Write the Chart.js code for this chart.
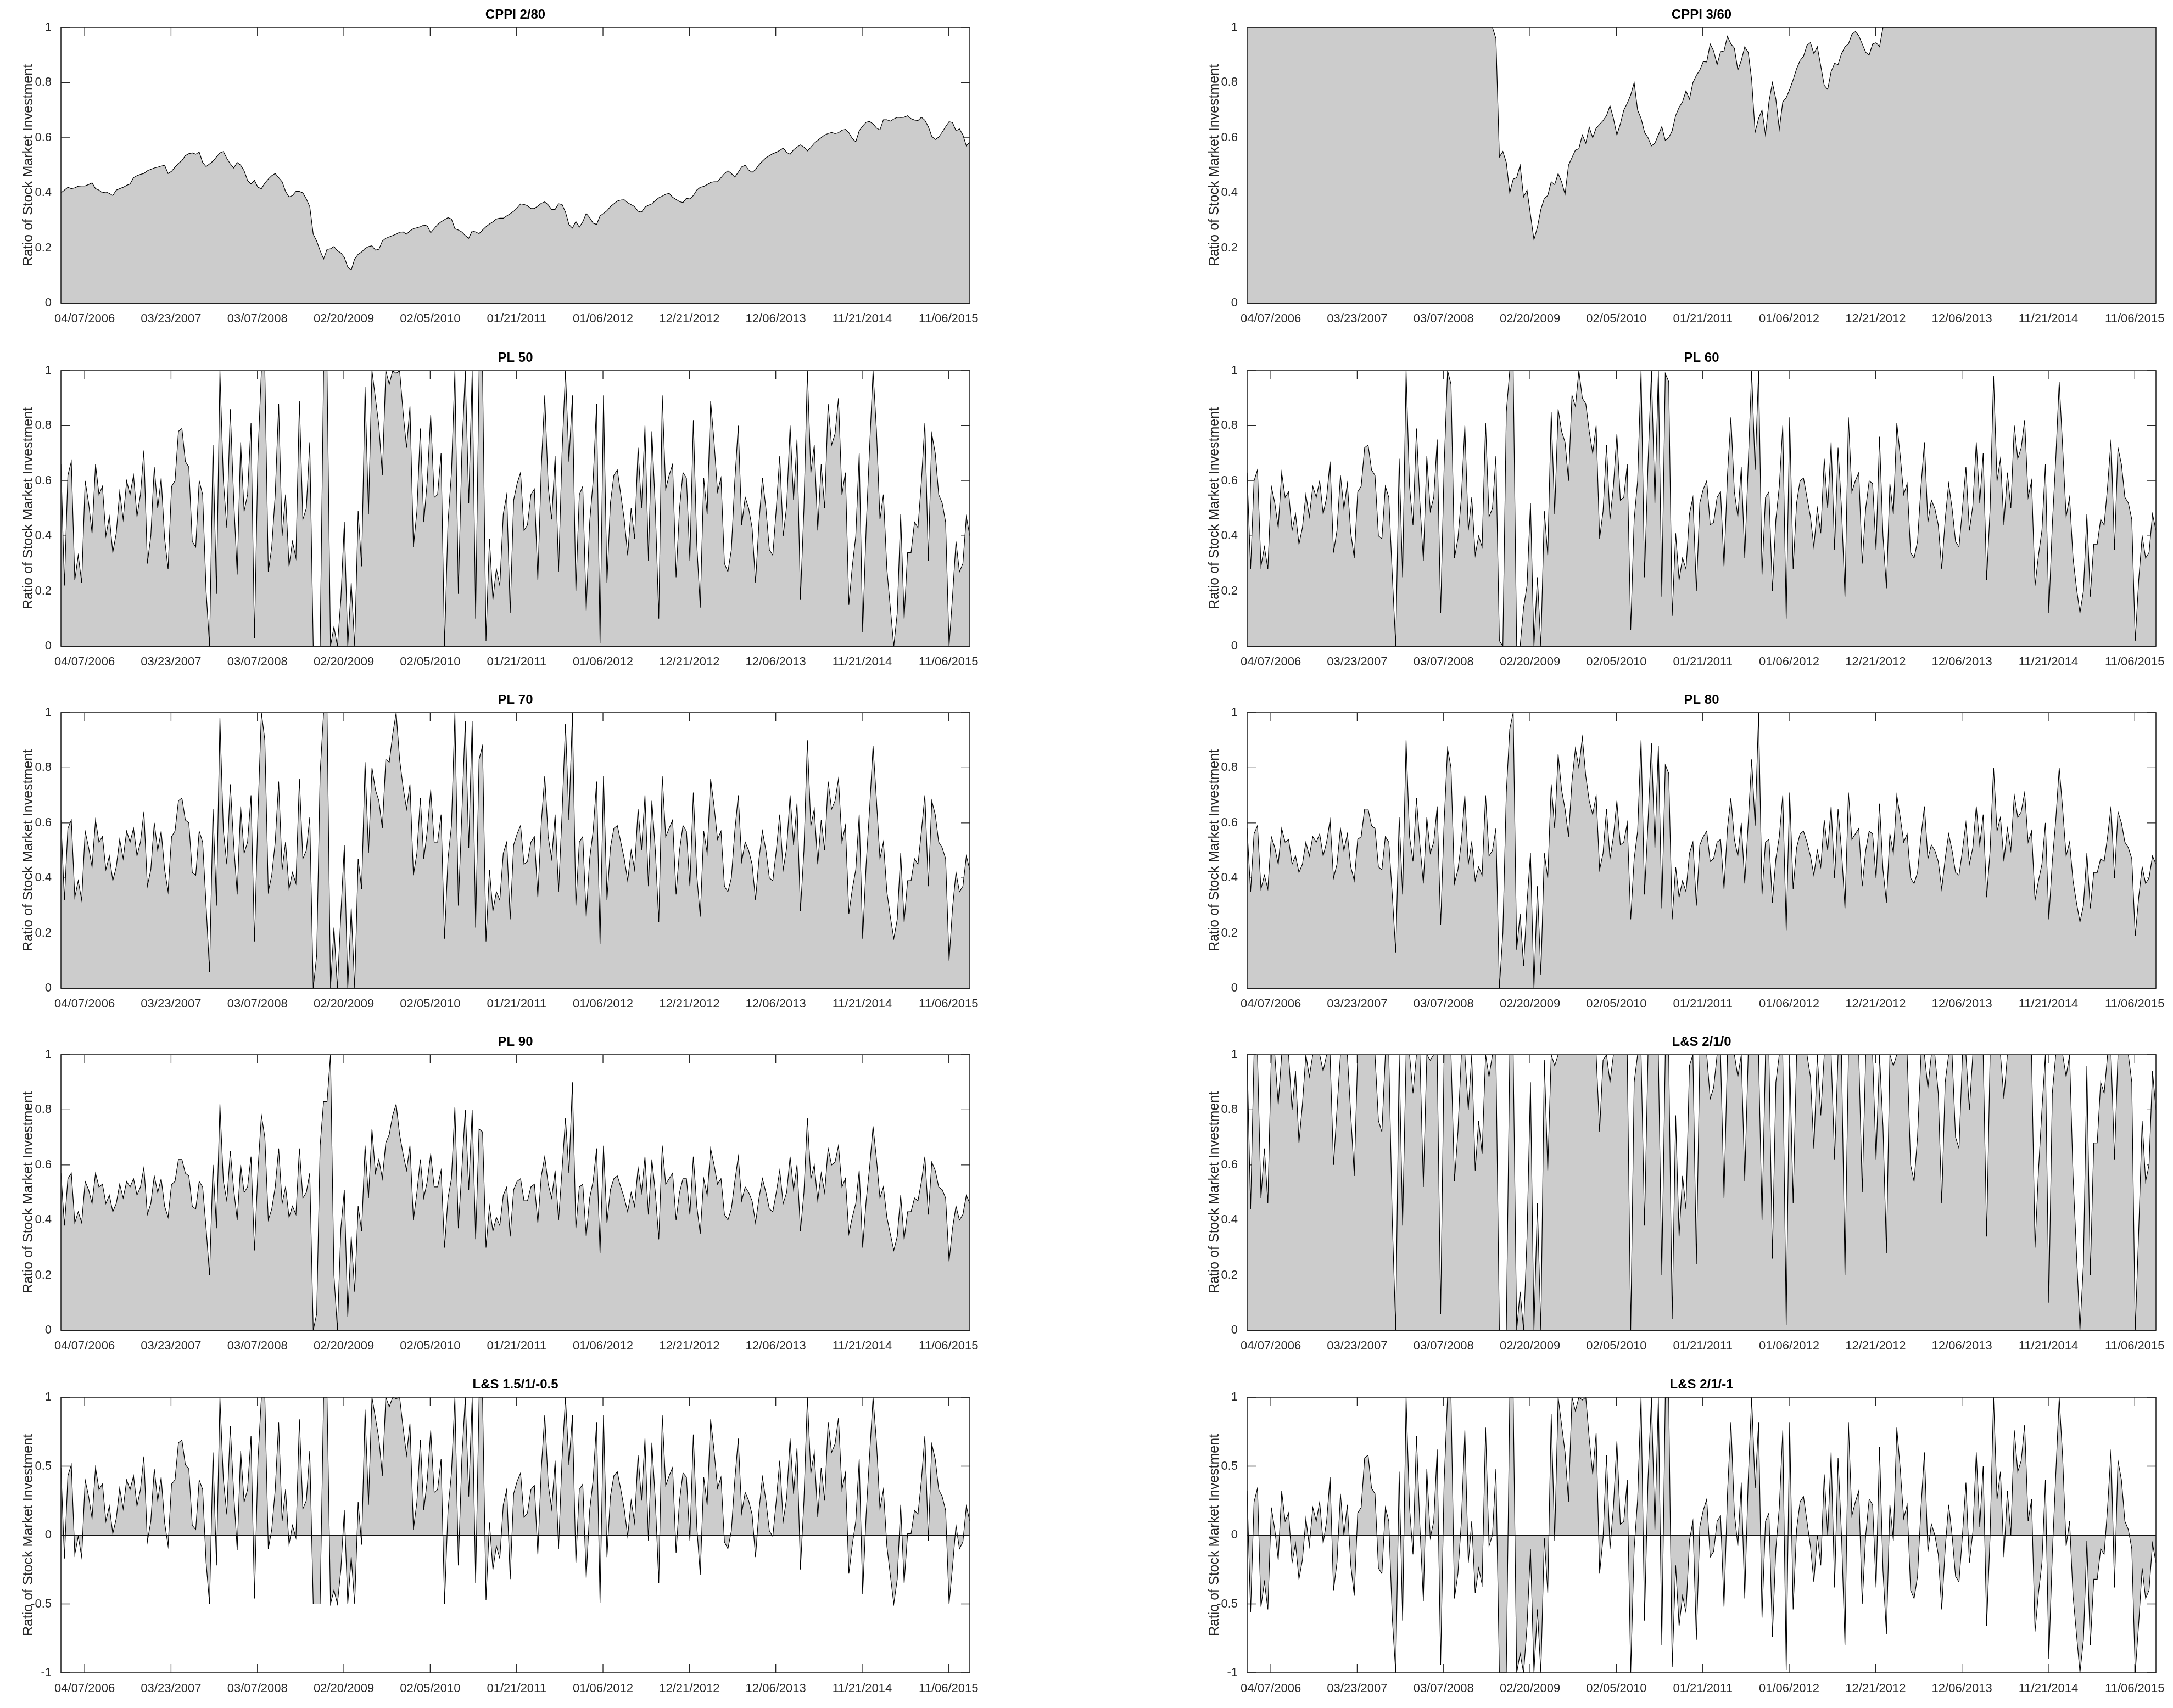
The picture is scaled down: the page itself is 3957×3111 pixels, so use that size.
<!DOCTYPE html>
<html>
<head>
<meta charset="utf-8">
<script src="https://cdn.jsdelivr.net/npm/chart.js@4.4.1/dist/chart.umd.min.js"></script>
<style>
html,body{margin:0;padding:0;background:#fff;}
#page{position:relative;width:3957px;height:3111px;background:#fff;overflow:hidden;}
canvas{position:absolute;}
</style>
</head>
<body>
<div id="page"></div>
<script>
// ---------- tick labels (weekly dates, one every 50 weeks) ----------
const tickLabels = ['04/07/2006','03/23/2007','03/07/2008','02/20/2009','02/05/2010','01/21/2011','01/06/2012','12/21/2012','12/06/2013','11/21/2014','11/06/2015'];
const tickWeeks = [13.7,63.7,113.7,163.7,213.7,263.7,313.7,363.7,413.7,463.7,513.7];
const yTicksUnit = [0,0.2,0.4,0.6,0.8,1];
const yTicksSigned = [-1,-0.5,0,0.5,1];
const WEEKS_PER_SAMPLE = 2;

// ---------- series (one value every two weeks) ----------
const cppi280 = [
0.40,0.41,0.42,0.415,0.418,0.424,0.425,0.425,0.43,0.436,
0.415,0.41,0.40,0.403,0.398,0.39,0.41,0.415,0.42,0.427,
0.432,0.455,0.462,0.467,0.47,0.48,0.485,0.49,0.493,0.497,
0.50,0.47,0.478,0.493,0.507,0.517,0.535,0.542,0.545,0.54,
0.548,0.51,0.495,0.505,0.515,0.53,0.545,0.55,0.525,0.505,
0.49,0.51,0.50,0.48,0.445,0.432,0.445,0.42,0.415,0.435,
0.45,0.462,0.47,0.455,0.44,0.405,0.385,0.39,0.405,0.405,
0.40,0.378,0.35,0.25,0.225,0.19,0.16,0.195,0.197,0.205,
0.19,0.182,0.166,0.13,0.12,0.16,0.177,0.185,0.198,0.205,
0.208,0.192,0.195,0.225,0.235,0.24,0.245,0.25,0.257,0.258,
0.25,0.262,0.27,0.273,0.277,0.283,0.28,0.255,0.27,0.285,
0.295,0.303,0.31,0.305,0.27,0.265,0.258,0.245,0.235,0.262,
0.258,0.252,0.265,0.277,0.287,0.295,0.305,0.308,0.308,0.316,
0.324,0.333,0.345,0.36,0.358,0.353,0.343,0.343,0.352,0.362,
0.367,0.356,0.34,0.34,0.36,0.358,0.33,0.285,0.272,0.296,
0.275,0.295,0.325,0.31,0.29,0.285,0.316,0.325,0.335,0.35,
0.36,0.37,0.374,0.375,0.364,0.357,0.35,0.333,0.33,0.348,
0.355,0.36,0.372,0.382,0.388,0.395,0.398,0.384,0.376,0.368,
0.365,0.38,0.378,0.39,0.41,0.42,0.423,0.43,0.438,0.44,
0.44,0.455,0.47,0.48,0.47,0.457,0.475,0.494,0.50,0.483,
0.474,0.484,0.502,0.515,0.527,0.535,0.542,0.547,0.554,0.562,
0.547,0.54,0.556,0.566,0.574,0.566,0.552,0.565,0.58,0.59,
0.60,0.61,0.615,0.619,0.615,0.618,0.627,0.63,0.618,0.597,
0.585,0.625,0.642,0.656,0.659,0.65,0.635,0.628,0.665,0.665,
0.66,0.668,0.674,0.673,0.674,0.68,0.669,0.664,0.662,0.674,
0.663,0.64,0.605,0.593,0.602,0.62,0.64,0.658,0.655,0.625,
0.632,0.61,0.57,0.585];

const cppi360 = [
1,1,1,1,1,1,1,1,1,1,
1,1,1,1,1,1,1,1,1,1,
1,1,1,1,1,1,1,1,1,1,
1,1,1,1,1,1,1,1,1,1,
1,1,1,1,1,1,1,1,1,1,
1,1,1,1,1,1,1,1,1,1,
1,1,1,1,1,1,1,1,1,1,
1,1,0.96,0.53,0.55,0.51,0.40,0.45,0.455,0.50,
0.385,0.41,0.32,0.23,0.275,0.34,0.38,0.39,0.44,0.43,
0.47,0.44,0.395,0.50,0.528,0.555,0.56,0.61,0.58,0.638,
0.60,0.635,0.648,0.662,0.68,0.716,0.67,0.61,0.65,0.70,
0.725,0.755,0.80,0.70,0.67,0.62,0.60,0.57,0.58,0.61,
0.64,0.59,0.60,0.625,0.68,0.71,0.73,0.77,0.74,0.80,
0.826,0.845,0.876,0.875,0.94,0.915,0.865,0.912,0.915,0.968,
0.94,0.925,0.845,0.88,0.93,0.91,0.81,0.62,0.67,0.70,
0.61,0.73,0.80,0.74,0.63,0.73,0.745,0.775,0.81,0.85,
0.88,0.895,0.935,0.945,0.905,0.93,0.86,0.79,0.775,0.84,
0.87,0.865,0.905,0.93,0.94,0.975,0.985,0.97,0.94,0.91,
0.90,0.94,0.945,0.93,1,1,1,1,1,1,
1,1,1,1,1,1,1,1,1,1,
1,1,1,1,1,1,1,1,1,1,
1,1,1,1,1,1,1,1,1,1,
1,1,1,1,1,1,1,1,1,1,
1,1,1,1,1,1,1,1,1,1,
1,1,1,1,1,1,1,1,1,1,
1,1,1,1,1,1,1,1,1,1,
1,1,1,1];

const pl50 = [
0.66,0.22,0.62,0.67,0.24,0.33,0.23,0.60,0.52,0.41,
0.66,0.55,0.58,0.40,0.47,0.34,0.41,0.56,0.46,0.60,
0.55,0.62,0.47,0.55,0.71,0.30,0.40,0.65,0.50,0.61,
0.39,0.28,0.58,0.60,0.78,0.79,0.67,0.65,0.38,0.36,
0.60,0.55,0.20,0,0.73,0.19,1,0.60,0.43,0.86,
0.53,0.26,0.74,0.49,0.55,0.81,0.03,0.69,1,1,
0.27,0.36,0.55,0.88,0.40,0.55,0.29,0.38,0.32,0.89,
0.46,0.50,0.74,0,0,0,1,1,0,0.07,
0,0.17,0.45,0,0.23,0,0.49,0.29,0.94,0.48,
1,0.90,0.80,0.62,1,0.95,1,0.99,1,0.85,
0.72,0.87,0.36,0.49,0.79,0.45,0.60,0.84,0.54,0.55,
0.70,0,0.45,0.63,1,0.19,0.70,1,0.52,1,
0.10,1,1,0.02,0.39,0.17,0.28,0.22,0.48,0.55,
0.12,0.53,0.59,0.63,0.42,0.44,0.55,0.57,0.24,0.65,
0.91,0.58,0.46,0.69,0.27,0.70,1,0.67,0.91,0.20,
0.55,0.58,0.13,0.45,0.60,0.88,0.01,0.91,0.23,0.52,
0.62,0.64,0.55,0.46,0.33,0.50,0.39,0.72,0.50,0.80,
0.31,0.78,0.50,0.10,0.91,0.57,0.62,0.66,0.25,0.50,
0.63,0.61,0.31,0.82,0.37,0.14,0.61,0.48,0.89,0.74,
0.56,0.61,0.30,0.27,0.35,0.60,0.80,0.44,0.54,0.50,
0.43,0.23,0.45,0.61,0.50,0.35,0.33,0.50,0.69,0.40,
0.51,0.80,0.53,0.75,0.17,0.50,1,0.63,0.73,0.42,
0.66,0.50,0.88,0.73,0.77,0.90,0.55,0.63,0.15,0.29,
0.40,0.70,0.05,0.43,0.72,1,0.78,0.46,0.55,0.28,
0.14,0,0.12,0.48,0.10,0.34,0.34,0.45,0.43,0.60,
0.81,0.31,0.77,0.70,0.55,0.52,0.45,0,0.18,0.38,
0.27,0.30,0.47,0.40];

const pl60 = [
0.63,0.28,0.60,0.64,0.29,0.36,0.28,0.58,0.52,0.43,
0.63,0.54,0.56,0.42,0.48,0.37,0.43,0.55,0.47,0.58,
0.54,0.60,0.48,0.54,0.67,0.34,0.42,0.62,0.50,0.59,
0.41,0.32,0.56,0.58,0.72,0.73,0.64,0.62,0.40,0.39,
0.58,0.54,0.26,0,0.68,0.25,1,0.58,0.44,0.79,
0.52,0.31,0.69,0.49,0.54,0.75,0.12,0.65,1,0.95,
0.32,0.39,0.54,0.80,0.42,0.54,0.33,0.40,0.36,0.81,
0.47,0.50,0.69,0.02,0,0.85,1,1,0,0,
0.14,0.22,0.52,0,0.25,0,0.49,0.33,0.85,0.48,
0.86,0.78,0.74,0.60,0.91,0.87,1,0.90,0.88,0.78,
0.70,0.80,0.39,0.49,0.73,0.46,0.58,0.77,0.53,0.54,
0.66,0.06,0.46,0.60,1,0.25,0.66,1,0.52,1,
0.18,0.99,0.96,0.11,0.41,0.24,0.32,0.28,0.48,0.54,
0.20,0.52,0.57,0.60,0.44,0.45,0.54,0.56,0.29,0.62,
0.83,0.56,0.47,0.65,0.32,0.66,1,0.64,1,0.26,
0.54,0.56,0.20,0.46,0.58,0.80,0.10,0.83,0.28,0.52,
0.60,0.61,0.54,0.47,0.36,0.50,0.41,0.68,0.50,0.74,
0.35,0.72,0.50,0.18,0.83,0.56,0.60,0.63,0.30,0.50,
0.60,0.59,0.35,0.76,0.40,0.21,0.59,0.48,0.81,0.69,
0.55,0.59,0.34,0.32,0.38,0.58,0.74,0.45,0.53,0.50,
0.44,0.28,0.46,0.59,0.50,0.38,0.36,0.50,0.65,0.42,
0.51,0.74,0.52,0.70,0.24,0.50,0.98,0.60,0.68,0.44,
0.63,0.50,0.80,0.68,0.72,0.82,0.54,0.60,0.22,0.33,
0.42,0.66,0.12,0.44,0.68,0.96,0.72,0.47,0.54,0.32,
0.21,0.12,0.20,0.48,0.18,0.37,0.37,0.46,0.44,0.58,
0.75,0.35,0.72,0.66,0.54,0.52,0.46,0.02,0.24,0.40,
0.32,0.34,0.48,0.42];

const pl70 = [
0.61,0.32,0.58,0.61,0.33,0.39,0.32,0.57,0.51,0.44,
0.61,0.53,0.55,0.43,0.48,0.39,0.44,0.54,0.47,0.57,
0.53,0.58,0.48,0.53,0.64,0.37,0.43,0.60,0.50,0.57,
0.43,0.35,0.55,0.57,0.68,0.69,0.61,0.60,0.42,0.41,
0.57,0.53,0.30,0.06,0.65,0.30,0.98,0.57,0.45,0.74,
0.52,0.34,0.66,0.49,0.53,0.70,0.17,0.63,1,0.90,
0.35,0.41,0.53,0.75,0.43,0.53,0.36,0.42,0.38,0.76,
0.47,0.50,0.62,0,0.12,0.78,1,1,0,0.22,
0,0.27,0.52,0,0.29,0,0.47,0.36,0.82,0.49,
0.80,0.72,0.68,0.58,0.83,0.82,0.92,1,0.83,0.73,
0.65,0.74,0.41,0.49,0.69,0.47,0.57,0.72,0.53,0.53,
0.63,0.18,0.47,0.59,1,0.30,0.63,0.97,0.51,0.97,
0.22,0.83,0.88,0.17,0.43,0.28,0.35,0.32,0.49,0.53,
0.25,0.52,0.56,0.59,0.45,0.46,0.53,0.55,0.33,0.60,
0.77,0.55,0.47,0.63,0.35,0.63,0.96,0.61,1,0.30,
0.53,0.55,0.26,0.47,0.57,0.75,0.16,0.77,0.32,0.51,
0.58,0.59,0.53,0.47,0.39,0.50,0.43,0.65,0.50,0.70,
0.37,0.68,0.50,0.24,0.77,0.55,0.58,0.61,0.34,0.50,
0.59,0.57,0.37,0.71,0.41,0.26,0.57,0.49,0.76,0.66,
0.54,0.57,0.37,0.35,0.40,0.57,0.70,0.46,0.53,0.50,
0.45,0.32,0.47,0.57,0.50,0.40,0.39,0.50,0.63,0.43,
0.51,0.70,0.52,0.67,0.28,0.50,0.90,0.59,0.65,0.45,
0.61,0.50,0.75,0.65,0.68,0.76,0.53,0.59,0.27,0.36,
0.43,0.63,0.18,0.45,0.65,0.88,0.68,0.47,0.53,0.35,
0.26,0.18,0.25,0.49,0.24,0.39,0.39,0.47,0.45,0.57,
0.70,0.37,0.68,0.63,0.53,0.51,0.47,0.10,0.29,0.42,
0.35,0.37,0.48,0.43];

const pl80 = [
0.58,0.35,0.56,0.59,0.36,0.41,0.36,0.55,0.51,0.45,
0.58,0.53,0.54,0.45,0.48,0.42,0.45,0.53,0.48,0.55,
0.53,0.56,0.48,0.53,0.61,0.40,0.45,0.58,0.50,0.56,
0.44,0.39,0.54,0.55,0.65,0.65,0.59,0.58,0.44,0.43,
0.55,0.53,0.34,0.13,0.62,0.34,0.90,0.55,0.46,0.69,
0.52,0.38,0.62,0.49,0.53,0.66,0.23,0.60,0.87,0.80,
0.38,0.43,0.53,0.70,0.45,0.53,0.39,0.44,0.41,0.70,
0.48,0.50,0.58,0,0.20,0.71,0.94,1,0.14,0.27,
0.08,0.31,0.49,0,0.37,0.05,0.49,0.40,0.74,0.58,
0.85,0.72,0.65,0.55,0.75,0.87,0.80,0.91,0.77,0.68,
0.63,0.70,0.43,0.49,0.65,0.47,0.55,0.68,0.52,0.53,
0.60,0.25,0.47,0.57,0.90,0.34,0.60,0.89,0.51,0.88,
0.29,0.81,0.78,0.25,0.44,0.33,0.39,0.35,0.49,0.53,
0.30,0.52,0.55,0.57,0.46,0.47,0.53,0.54,0.36,0.58,
0.69,0.54,0.48,0.60,0.38,0.60,0.83,0.59,1,0.34,
0.53,0.54,0.31,0.47,0.55,0.70,0.21,0.71,0.36,0.51,
0.56,0.57,0.53,0.48,0.41,0.50,0.44,0.61,0.50,0.66,
0.40,0.65,0.50,0.29,0.71,0.54,0.56,0.58,0.37,0.50,
0.57,0.56,0.40,0.67,0.43,0.31,0.56,0.49,0.70,0.62,
0.53,0.56,0.40,0.38,0.42,0.55,0.66,0.47,0.52,0.50,
0.46,0.36,0.47,0.56,0.50,0.42,0.41,0.50,0.60,0.45,
0.51,0.66,0.52,0.63,0.33,0.50,0.80,0.57,0.62,0.46,
0.58,0.50,0.70,0.62,0.64,0.71,0.53,0.57,0.32,0.39,
0.45,0.60,0.25,0.46,0.61,0.80,0.65,0.48,0.53,0.39,
0.31,0.24,0.30,0.49,0.29,0.42,0.42,0.47,0.46,0.55,
0.66,0.40,0.64,0.60,0.53,0.51,0.47,0.19,0.33,0.44,
0.38,0.40,0.48,0.45];

const pl90 = [
0.57,0.38,0.55,0.57,0.39,0.43,0.39,0.54,0.51,0.46,
0.57,0.52,0.53,0.46,0.49,0.43,0.46,0.53,0.48,0.54,
0.52,0.55,0.49,0.52,0.59,0.42,0.46,0.56,0.50,0.55,
0.45,0.41,0.53,0.54,0.62,0.62,0.57,0.56,0.45,0.44,
0.54,0.52,0.37,0.20,0.60,0.37,0.82,0.54,0.47,0.65,
0.51,0.40,0.60,0.50,0.52,0.63,0.29,0.58,0.78,0.70,
0.40,0.44,0.52,0.66,0.46,0.52,0.41,0.45,0.42,0.66,
0.48,0.50,0.57,0,0.06,0.67,0.83,0.83,1,0.20,
0,0.37,0.51,0.05,0.34,0.14,0.45,0.36,0.67,0.48,
0.73,0.57,0.62,0.55,0.68,0.71,0.78,0.82,0.71,0.64,
0.58,0.67,0.40,0.50,0.62,0.48,0.54,0.64,0.52,0.52,
0.58,0.30,0.48,0.55,0.81,0.37,0.58,0.80,0.51,0.80,
0.33,0.73,0.72,0.30,0.45,0.36,0.41,0.38,0.49,0.52,
0.34,0.51,0.54,0.55,0.47,0.47,0.52,0.53,0.39,0.56,
0.63,0.53,0.48,0.58,0.40,0.58,0.77,0.57,0.90,0.37,
0.52,0.53,0.34,0.48,0.54,0.66,0.28,0.67,0.39,0.51,
0.55,0.56,0.52,0.48,0.43,0.50,0.45,0.59,0.50,0.63,
0.42,0.62,0.50,0.33,0.67,0.53,0.55,0.57,0.40,0.50,
0.55,0.55,0.42,0.63,0.45,0.35,0.55,0.49,0.66,0.60,
0.53,0.55,0.42,0.40,0.44,0.54,0.63,0.47,0.52,0.50,
0.47,0.39,0.48,0.55,0.50,0.44,0.43,0.50,0.58,0.46,
0.50,0.63,0.51,0.60,0.36,0.50,0.77,0.55,0.60,0.47,
0.57,0.50,0.66,0.60,0.61,0.67,0.52,0.55,0.35,0.41,
0.46,0.58,0.30,0.47,0.59,0.74,0.62,0.48,0.52,0.41,
0.35,0.29,0.34,0.49,0.33,0.43,0.43,0.48,0.47,0.54,
0.63,0.42,0.61,0.58,0.52,0.51,0.48,0.25,0.37,0.45,
0.40,0.42,0.49,0.46];

const ls210 = [
1,0.44,1,1,0.48,0.66,0.46,1,1,0.82,
1,1,1,0.80,0.94,0.68,0.82,1,0.92,1,
1,1,0.94,1,1,0.60,0.80,1,1,1,
0.78,0.56,1,1,1,1,1,1,0.76,0.72,
1,1,0.40,0,1,0.38,1,1,0.86,1,
1,0.52,1,0.98,1,1,0.06,1,1,1,
0.54,0.72,1,1,0.80,1,0.58,0.76,0.64,1,
0.92,1,1,0,0,0,1,1,0,0.14,
0,0.34,0.90,0,0.46,0,0.98,0.58,1,0.96,
1,1,1,1,1,1,1,1,1,1,
1,1,0.72,0.98,1,0.90,1,1,1,1,
1,0,0.90,1,1,0.38,1,1,1,1,
0.20,1,1,0.04,0.78,0.34,0.56,0.44,0.96,1,
0.24,1,1,1,0.84,0.88,1,1,0.48,1,
1,1,0.92,1,0.54,1,1,1,1,0.40,
1,1,0.26,0.90,1,1,0.02,1,0.46,1,
1,1,1,0.92,0.66,1,0.78,1,1,1,
0.62,1,1,0.20,1,1,1,1,0.50,1,
1,1,0.62,1,0.74,0.28,1,0.96,1,1,
1,1,0.60,0.54,0.70,1,1,0.88,1,1,
0.86,0.46,0.90,1,1,0.70,0.66,1,1,0.80,
1,1,1,1,0.34,1,1,1,1,0.84,
1,1,1,1,1,1,1,1,0.30,0.58,
0.80,1,0.10,0.86,1,1,1,0.92,1,0.56,
0.28,0,0.24,0.96,0.20,0.68,0.68,0.90,0.86,1,
1,0.62,1,1,1,1,0.90,0,0.36,0.76,
0.54,0.60,0.94,0.80];

const ls15 = [
0.49,-0.17,0.43,0.51,-0.14,-0.01,-0.16,0.40,0.28,0.12,
0.49,0.33,0.37,0.10,0.21,0.01,0.12,0.34,0.19,0.40,
0.33,0.43,0.21,0.33,0.57,-0.05,0.10,0.48,0.25,0.42,
0.09,-0.08,0.37,0.40,0.67,0.69,0.51,0.48,0.07,0.04,
0.40,0.33,-0.20,-0.50,0.60,-0.22,1,0.40,0.15,0.79,
0.30,-0.11,0.61,0.24,0.33,0.72,-0.46,0.54,1,1,
-0.10,0.04,0.33,0.82,0.10,0.33,-0.07,0.07,-0.02,0.84,
0.19,0.25,0.61,-0.50,-0.50,-0.50,1,1,-0.50,-0.40,
-0.50,-0.25,0.18,-0.50,-0.16,-0.50,0.24,-0.07,0.91,0.22,
1,0.85,0.70,0.43,1,0.93,1,0.99,1,0.78,
0.58,0.81,0.04,0.24,0.69,0.18,0.40,0.76,0.31,0.33,
0.55,-0.50,0.18,0.45,1,-0.22,0.55,1,0.28,1,
-0.35,1,1,-0.47,0.09,-0.25,-0.08,-0.17,0.22,0.33,
-0.32,0.30,0.39,0.45,0.13,0.16,0.33,0.36,-0.14,0.48,
0.87,0.37,0.19,0.54,-0.10,0.55,1,0.51,0.87,-0.20,
0.33,0.37,-0.31,0.18,0.40,0.82,-0.49,0.87,-0.16,0.28,
0.43,0.46,0.33,0.19,-0.01,0.25,0.09,0.58,0.25,0.70,
-0.04,0.67,0.25,-0.35,0.87,0.36,0.43,0.49,-0.13,0.25,
0.45,0.42,-0.04,0.73,0.06,-0.29,0.42,0.22,0.84,0.61,
0.34,0.42,-0.05,-0.10,0.03,0.40,0.70,0.16,0.31,0.25,
0.15,-0.16,0.18,0.42,0.25,0.03,-0.01,0.25,0.54,0.10,
0.27,0.70,0.30,0.63,-0.25,0.25,1,0.45,0.60,0.13,
0.49,0.25,0.82,0.60,0.66,0.85,0.33,0.45,-0.28,-0.07,
0.10,0.55,-0.43,0.15,0.58,1,0.67,0.19,0.33,-0.08,
-0.29,-0.50,-0.32,0.22,-0.35,0.01,0.01,0.18,0.15,0.40,
0.72,-0.04,0.66,0.55,0.33,0.28,0.18,-0.50,-0.23,0.07,
-0.10,-0.05,0.21,0.10];

const ls21m1 = [
0.32,-0.56,0.24,0.34,-0.52,-0.34,-0.54,0.20,0.04,-0.18,
0.32,0.10,0.16,-0.20,-0.06,-0.32,-0.18,0.12,-0.08,0.20,
0.10,0.24,-0.06,0.10,0.42,-0.40,-0.20,0.30,0,0.22,
-0.22,-0.44,0.16,0.20,0.56,0.58,0.34,0.30,-0.24,-0.28,
0.20,0.10,-0.60,-1,0.46,-0.62,1,0.20,-0.14,0.72,
0.06,-0.48,0.48,-0.02,0.10,0.62,-0.94,0.38,1,1,
-0.46,-0.28,0.10,0.76,-0.20,0.10,-0.42,-0.24,-0.36,0.78,
-0.08,0,0.48,-1,-1,-1,1,1,-1,-0.86,
-1,-0.66,-0.10,-1,-0.54,-1,-0.02,-0.42,0.88,-0.04,
1,0.80,0.60,0.24,1,0.90,1,0.98,1,0.70,
0.44,0.74,-0.28,-0.02,0.58,-0.10,0.20,0.68,0.08,0.10,
0.40,-1,-0.10,0.26,1,-0.62,0.40,1,0.04,1,
-0.80,1,1,-0.96,-0.22,-0.66,-0.44,-0.56,-0.04,0.10,
-0.76,0.06,0.18,0.26,-0.16,-0.12,0.10,0.14,-0.52,0.30,
0.82,0.16,-0.08,0.38,-0.46,0.40,1,0.34,0.82,-0.60,
0.10,0.16,-0.74,-0.10,0.20,0.76,-0.98,0.82,-0.54,0.04,
0.24,0.28,0.10,-0.08,-0.34,0,-0.22,0.44,0,0.60,
-0.38,0.56,0,-0.80,0.82,0.14,0.24,0.32,-0.50,0,
0.26,0.22,-0.38,0.64,-0.26,-0.72,0.22,-0.04,0.78,0.48,
0.12,0.22,-0.40,-0.46,-0.30,0.20,0.60,-0.12,0.08,0,
-0.14,-0.54,-0.10,0.22,0,-0.30,-0.34,0,0.38,-0.20,
0.02,0.60,0.06,0.50,-0.66,0,1,0.26,0.46,-0.16,
0.32,0,0.76,0.46,0.54,0.80,0.10,0.26,-0.70,-0.42,
-0.20,0.40,-0.90,-0.14,0.44,1,0.56,-0.08,0.10,-0.44,
-0.72,-1,-0.76,-0.04,-0.80,-0.32,-0.32,-0.10,-0.14,0.20,
0.62,-0.38,0.54,0.40,0.10,0.04,-0.10,-1,-0.64,-0.24,
-0.46,-0.40,-0.06,-0.20];

// ---------- layout ----------
const FONT = '"Liberation Sans", Arial, Helvetica, sans-serif';
const INK = '#262626';
const COL_LEFT = [111, 2271];
const ROW_TOP = [50, 675, 1298, 1921, 2545];
const PLOT_W = 1655, PLOT_H = 502;
const M_L = 111, M_T = 50, M_R = 30, M_B = 52;
const Y_TITLE = 'Ratio of Stock Market Investment';

const panels = [
  {title:'CPPI 2/80',      values:cppi280, col:0, row:0, signed:false},
  {title:'CPPI 3/60',      values:cppi360, col:1, row:0, signed:false},
  {title:'PL 50',          values:pl50,    col:0, row:1, signed:false},
  {title:'PL 60',          values:pl60,    col:1, row:1, signed:false},
  {title:'PL 70',          values:pl70,    col:0, row:2, signed:false},
  {title:'PL 80',          values:pl80,    col:1, row:2, signed:false},
  {title:'PL 90',          values:pl90,    col:0, row:3, signed:false},
  {title:'L&S 2/1/0',      values:ls210,   col:1, row:3, signed:false},
  {title:'L&S 1.5/1/-0.5', values:ls15,    col:0, row:4, signed:true},
  {title:'L&S 2/1/-1',     values:ls21m1,  col:1, row:4, signed:true}
];

function makeDecor(title) {
  return {
    id: 'decor',
    beforeDatasetsDraw(chart) {
      const {ctx, chartArea: a, scales: {x, y}} = chart;
      const tl = 16;
      ctx.save();
      ctx.strokeStyle = INK;
      ctx.lineWidth = 1.3;
      ctx.beginPath();
      x.ticks.forEach(t => {
        const px = x.getPixelForValue(t.value);
        ctx.moveTo(px, a.bottom); ctx.lineTo(px, a.bottom - tl);
        ctx.moveTo(px, a.top); ctx.lineTo(px, a.top + tl);
      });
      y.ticks.forEach(t => {
        const py = y.getPixelForValue(t.value);
        ctx.moveTo(a.left, py); ctx.lineTo(a.left + tl, py);
        ctx.moveTo(a.right, py); ctx.lineTo(a.right - tl, py);
      });
      ctx.stroke();
      ctx.restore();
    },
    afterDatasetsDraw(chart) {
      const {ctx, chartArea: a, scales: {y}} = chart;
      ctx.save();
      const py0 = y.getPixelForValue(0);
      ctx.strokeStyle = '#111';
      ctx.lineWidth = 2;
      ctx.beginPath();
      ctx.moveTo(a.left, py0); ctx.lineTo(a.right, py0);
      ctx.stroke();
      ctx.strokeStyle = INK;
      ctx.lineWidth = 1.6;
      ctx.strokeRect(a.left, a.top, a.right - a.left, a.bottom - a.top);
      ctx.restore();
    },
    afterDraw(chart) {
      const {ctx, chartArea: a} = chart;
      ctx.save();
      ctx.fillStyle = '#000';
      ctx.font = 'bold 24px ' + FONT;
      ctx.textAlign = 'center';
      ctx.textBaseline = 'middle';
      ctx.fillText(title, (a.left + a.right) / 2, a.top - 23);
      ctx.fillStyle = INK;
      ctx.font = '25px ' + FONT;
      ctx.translate(a.left - 59, (a.top + a.bottom) / 2);
      ctx.rotate(-Math.PI / 2);
      ctx.fillText(Y_TITLE, 0, 0);
      ctx.restore();
    }
  };
}

const page = document.getElementById('page');
const XMAX = 526;

panels.forEach(p => {
  const cw = M_L + PLOT_W + M_R, ch = M_T + PLOT_H + M_B;
  const cv = document.createElement('canvas');
  cv.width = cw; cv.height = ch;
  cv.style.width = cw + 'px'; cv.style.height = ch + 'px';
  cv.style.left = (COL_LEFT[p.col] - M_L) + 'px';
  cv.style.top = (ROW_TOP[p.row] - M_T) + 'px';
  page.appendChild(cv);
  const yt = p.signed ? yTicksSigned : yTicksUnit;
  new Chart(cv, {
    type: 'line',
    data: {
      datasets: [{
        data: p.values.map((v, i) => ({x: i * WEEKS_PER_SAMPLE, y: v})),
        borderColor: '#000',
        borderWidth: 1.2,
        backgroundColor: '#cccccc',
        fill: 'origin',
        pointRadius: 0,
        tension: 0
      }]
    },
    options: {
      responsive: false,
      animation: false,
      devicePixelRatio: 1,
      events: [],
      layout: {padding: {left: 0, right: M_R, top: M_T, bottom: 0}},
      plugins: {legend: {display: false}, tooltip: {enabled: false}, title: {display: false}},
      scales: {
        x: {
          type: 'linear', min: 0, max: XMAX,
          grid: {display: false}, border: {display: false},
          afterBuildTicks: s => { s.ticks = tickWeeks.map(v => ({value: v})); },
          afterFit: s => { s.height = M_B; },
          ticks: {autoSkip: false, maxRotation: 0, minRotation: 0, padding: 8, color: INK,
                  font: {family: FONT, size: 22}, callback: (v, i) => tickLabels[i]}
        },
        y: {
          type: 'linear', min: yt[0], max: yt[yt.length - 1],
          grid: {display: false}, border: {display: false},
          afterBuildTicks: s => { s.ticks = yt.map(v => ({value: v})); },
          afterFit: s => { s.width = M_L; },
          ticks: {padding: 9, color: INK, font: {family: FONT, size: 22},
                  callback: v => String(Math.round(v * 10) / 10)}
        }
      }
    },
    plugins: [makeDecor(p.title)]
  });
});
</script>
</body>
</html>
